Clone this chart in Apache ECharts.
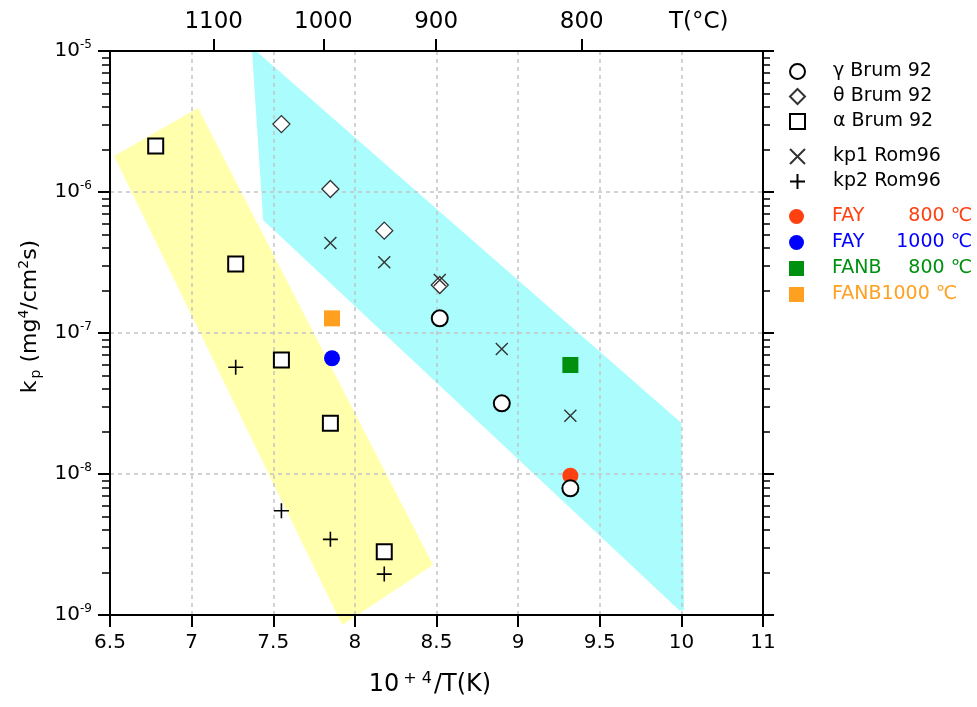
<!DOCTYPE html>
<html>
<head>
<meta charset="utf-8">
<script src="https://cdn.jsdelivr.net/npm/echarts@6.0.0/dist/echarts.min.js"></script>
<style>
html,body{margin:0;padding:0;background:#fff;}
#chart{width:977px;height:707px;}
</style>
</head>
<body>
<div id="chart"></div>
<script>
// ---- axis ticks / labels ----
const xTickValues = [6.5, 7, 7.5, 8, 8.5, 9, 9.5, 10, 10.5];
const xTickLabels = ['6.5', '7', '7.5', '8', '8.5', '9', '9.5', '10', '11'];
const topTickValues = [7.135, 7.807, 8.498, 9.39];
const topLabelValues = [7.135, 7.807, 8.498, 9.39, 10.106];
const topLabels = ['1100', '1000', '900', '800', 'T(°C)'];
const yMin = 1e-9, yMax = 1e-5;

// ---- data series (x = 10^4/T(K), y = kp) ----
const gammaX = [8.52, 8.90, 9.32];
const gammaY = [1.27e-7, 3.17e-8, 7.92e-9];
const thetaX = [7.55, 7.85, 8.18, 8.52];
const thetaY = [3.03e-6, 1.05e-6, 5.32e-7, 2.19e-7];
const alphaX = [6.78, 7.27, 7.55, 7.85, 8.18];
const alphaY = [2.12e-6, 3.08e-7, 6.44e-8, 2.29e-8, 2.81e-9];
const kp1X = [7.85, 8.18, 8.52, 8.90, 9.32];
const kp1Y = [4.35e-7, 3.17e-7, 2.38e-7, 7.70e-8, 2.59e-8];
const kp2X = [7.27, 7.55, 7.85, 8.18];
const kp2Y = [5.71e-8, 5.49e-9, 3.44e-9, 1.95e-9];
const fay800X = [9.32];  const fay800Y = [9.73e-9];
const fay1000X = [7.86]; const fay1000Y = [6.62e-8];
const fanb800X = [9.32]; const fanb800Y = [5.93e-8];
const fanb1000X = [7.86]; const fanb1000Y = [1.27e-7];

// ---- shaded bands (polygon vertices in data units) ----
const yellowBandX = [6.525, 7.039, 8.479, 7.922];
const yellowBandY = [1.80e-6, 3.95e-6, 2.26e-9, 8.49e-10];
const cyanBandX = [7.370, 7.395, 10.0, 10.017, 9.987, 7.438];
const cyanBandY = [1e-5, 1e-5, 2.30e-8, 1.08e-9, 1.08e-9, 6.32e-7];

// ---- names ----
const nGamma = 'γ Brum 92', nTheta = 'θ Brum 92', nAlpha = 'α Brum 92';
const nKp1 = 'kp1 Rom96', nKp2 = 'kp2 Rom96';
const nFay800 = 'FAY 800 ℃', nFay1000 = 'FAY 1000 ℃', nFanb800 = 'FANB 800 ℃', nFanb1000 = 'FANB1000 ℃';
const legendParts = {};
legendParts[nFay800] = ['FAY', '800 ℃'];
legendParts[nFay1000] = ['FAY', '1000 ℃'];
legendParts[nFanb800] = ['FANB', '800 ℃'];

const cRed = '#ff4010', cBlue = '#0000ff', cGreen = '#009010', cOrange = '#ffa020';

function zip(xs, ys) { return xs.map((x, i) => [x, ys[i]]); }
function lookup(vals, labels, v) {
  for (let i = 0; i < vals.length; i++) if (Math.abs(vals[i] - v) < 1e-6) return labels[i];
  return '';
}
function band(xs, ys, color) {
  return {
    type: 'custom', z: -1, silent: true, clip: false,
    data: [[xs[0], ys[0]]],
    renderItem: function (params, api) {
      const pts = xs.map((x, i) => api.coord([x, ys[i]]));
      return { type: 'polygon', shape: { points: pts }, style: { fill: color } };
    }
  };
}
const FONT = 'DejaVu Sans';
const crossPath = 'path://M0,0L10,10M10,0L0,10';
const plusPath = 'path://M5,0L5,10M0,5L10,5';

const chart = echarts.init(document.getElementById('chart'));
const legendCommon = {
  orient: 'vertical', left: 789, padding: 0, itemWidth: 15, itemHeight: 15,
  selectedMode: false, symbolKeepAspect: true,
  textStyle: { fontFamily: FONT, fontSize: 19, color: '#000',
    rich: {
      sp: { fontFamily: FONT, fontSize: 19, width: 23 },
      p: { fontFamily: FONT, fontSize: 19 },
      n: { fontFamily: FONT, fontSize: 19, width: 60 },
      t: { fontFamily: FONT, fontSize: 19, width: 80, align: 'right' } } },
  formatter: function (name) {
    const p = legendParts[name];
    return p ? '{sp| }{n|' + p[0] + '}{t|' + p[1] + '}' : '{sp| }{p|' + name + '}';
  }
};
const option = {
  animation: false,
  backgroundColor: '#fff',
  grid: { left: 110, right: 214, top: 51, bottom: 92, containLabel: false, outerBoundsMode: 'none' },
  legend: [
    Object.assign({}, legendCommon, { top: 62, itemGap: 6, data: [nGamma, nTheta, nAlpha] }),
    Object.assign({}, legendCommon, { top: 147, itemGap: 6, data: [nKp1, nKp2] }),
    Object.assign({}, legendCommon, { top: 207, itemGap: 7, data: [
      { name: nFay800, textStyle: { color: cRed } },
      { name: nFay1000, textStyle: { color: cBlue } },
      { name: nFanb800, textStyle: { color: cGreen } },
      { name: nFanb1000, textStyle: { color: cOrange } }
    ] })
  ],
  xAxis: [
    {
      type: 'value', position: 'bottom', min: 6.5, max: 10.5, interval: 0.5,
      axisLine: { show: true, onZero: false, lineStyle: { color: '#000', width: 2 } },
      axisTick: { show: true, inside: false, length: 12, lineStyle: { color: '#000', width: 2 } },
      axisLabel: { margin: 18, fontFamily: FONT, fontSize: 20, color: '#000',
        formatter: function (v) { return lookup(xTickValues, xTickLabels, v); } },
      splitLine: { show: true, lineStyle: { color: '#c4c4c4', width: 1.5, type: [4, 4] } },
      name: '{b|10}{s|+ 4}{b|/T(K)}', nameLocation: 'middle', nameGap: 56,
      nameTextStyle: { padding: [0, 13, 0, 0], rich: {
        b: { fontFamily: FONT, fontSize: 24, color: '#000' },
        s: { fontFamily: FONT, fontSize: 16, color: '#000', padding: [0, 2, 12, 4] } } }
    },
    {
      type: 'value', position: 'top', min: 6.5, max: 10.5,
      axisLine: { show: true, onZero: false, lineStyle: { color: '#000', width: 2 } },
      axisTick: { show: true, inside: false, length: 12, customValues: topTickValues, lineStyle: { color: '#000', width: 2 } },
      axisLabel: { show: true, margin: 17, fontFamily: FONT, fontSize: 23, color: '#000', customValues: topLabelValues,
        formatter: function (v) { return lookup(topLabelValues, topLabels, v); } },
      splitLine: { show: false }
    }
  ],
  yAxis: [
    {
      type: 'log', logBase: 10, position: 'left', min: yMin, max: yMax,
      axisLine: { show: true, onZero: false, lineStyle: { color: '#000', width: 2 } },
      axisTick: { show: true, inside: false, length: 12, lineStyle: { color: '#000', width: 2 } },
      minorTick: { show: true, splitNumber: 9, length: 8, lineStyle: { color: '#000', width: 1.5 } },
      axisLabel: { margin: 18, color: '#000',
        formatter: function (v) { return '{b|10}{s|' + Math.round(Math.log10(v)) + '}'; },
        rich: { b: { fontFamily: FONT, fontSize: 20, color: '#000' },
                s: { fontFamily: FONT, fontSize: 12, color: '#000', padding: [0, 0, 12, 0] } } },
      splitLine: { show: true, lineStyle: { color: '#c4c4c4', width: 1.5, type: [4, 4] } },
      name: '{b|k}{sub|p}{b| (mg}{s|4}{b|/cm}{s|2}{b|s)}', nameLocation: 'middle', nameRotate: 90, nameGap: 60,
      nameTextStyle: { padding: [0, 0, 0, 33], rich: {
        b: { fontFamily: FONT, fontSize: 22, color: '#000' },
        s: { fontFamily: FONT, fontSize: 14, color: '#000', padding: [0, 0, 12, 0] },
        sub: { fontFamily: FONT, fontSize: 14, color: '#000', padding: [12, 0, 0, 2] } } }
    },
    {
      type: 'log', logBase: 10, position: 'right', min: yMin, max: yMax,
      axisLine: { show: true, onZero: false, lineStyle: { color: '#000', width: 2 } },
      axisTick: { show: true, inside: false, length: 11, lineStyle: { color: '#000', width: 2 } },
      minorTick: { show: true, splitNumber: 9, length: 7, lineStyle: { color: '#000', width: 1.5 } },
      axisLabel: { show: false },
      splitLine: { show: false }
    }
  ],
  series: [
    band(yellowBandX, yellowBandY, '#ffffac'),
    band(cyanBandX, cyanBandY, '#abfcfc'),
    { name: nFay800, type: 'scatter', symbol: 'circle', symbolSize: 16, data: zip(fay800X, fay800Y),
      itemStyle: { color: cRed, opacity: 1 } },
    { name: nFay1000, type: 'scatter', symbol: 'circle', symbolSize: 16, data: zip(fay1000X, fay1000Y),
      itemStyle: { color: cBlue, opacity: 1 } },
    { name: nFanb800, type: 'scatter', symbol: 'rect', symbolSize: 16, data: zip(fanb800X, fanb800Y),
      itemStyle: { color: cGreen, opacity: 1 } },
    { name: nFanb1000, type: 'scatter', symbol: 'rect', symbolSize: 16, data: zip(fanb1000X, fanb1000Y),
      itemStyle: { color: cOrange, opacity: 1 } },
    { name: nGamma, type: 'scatter', symbol: 'circle', symbolSize: 16, data: zip(gammaX, gammaY),
      itemStyle: { color: '#fff', borderColor: '#000', borderWidth: 2, opacity: 1 } },
    { name: nTheta, type: 'scatter', symbol: 'diamond', symbolSize: 17, data: zip(thetaX, thetaY),
      itemStyle: { color: '#fff', borderColor: '#333', borderWidth: 1.3, opacity: 1 } },
    { name: nAlpha, type: 'scatter', symbol: 'rect', symbolSize: 15, data: zip(alphaX, alphaY),
      itemStyle: { color: '#fff', borderColor: '#000', borderWidth: 2, opacity: 1 } },
    { name: nKp1, type: 'scatter', symbol: crossPath, symbolSize: 12, data: zip(kp1X, kp1Y),
      itemStyle: { color: 'rgba(0,0,0,0)', borderColor: '#333', borderWidth: 1.4, opacity: 1 } },
    { name: nKp2, type: 'scatter', symbol: plusPath, symbolSize: 15, data: zip(kp2X, kp2Y),
      itemStyle: { color: 'rgba(0,0,0,0)', borderColor: '#000', borderWidth: 1.6, opacity: 1 } }
  ]
};
chart.setOption(option);
</script>
</body>
</html>
